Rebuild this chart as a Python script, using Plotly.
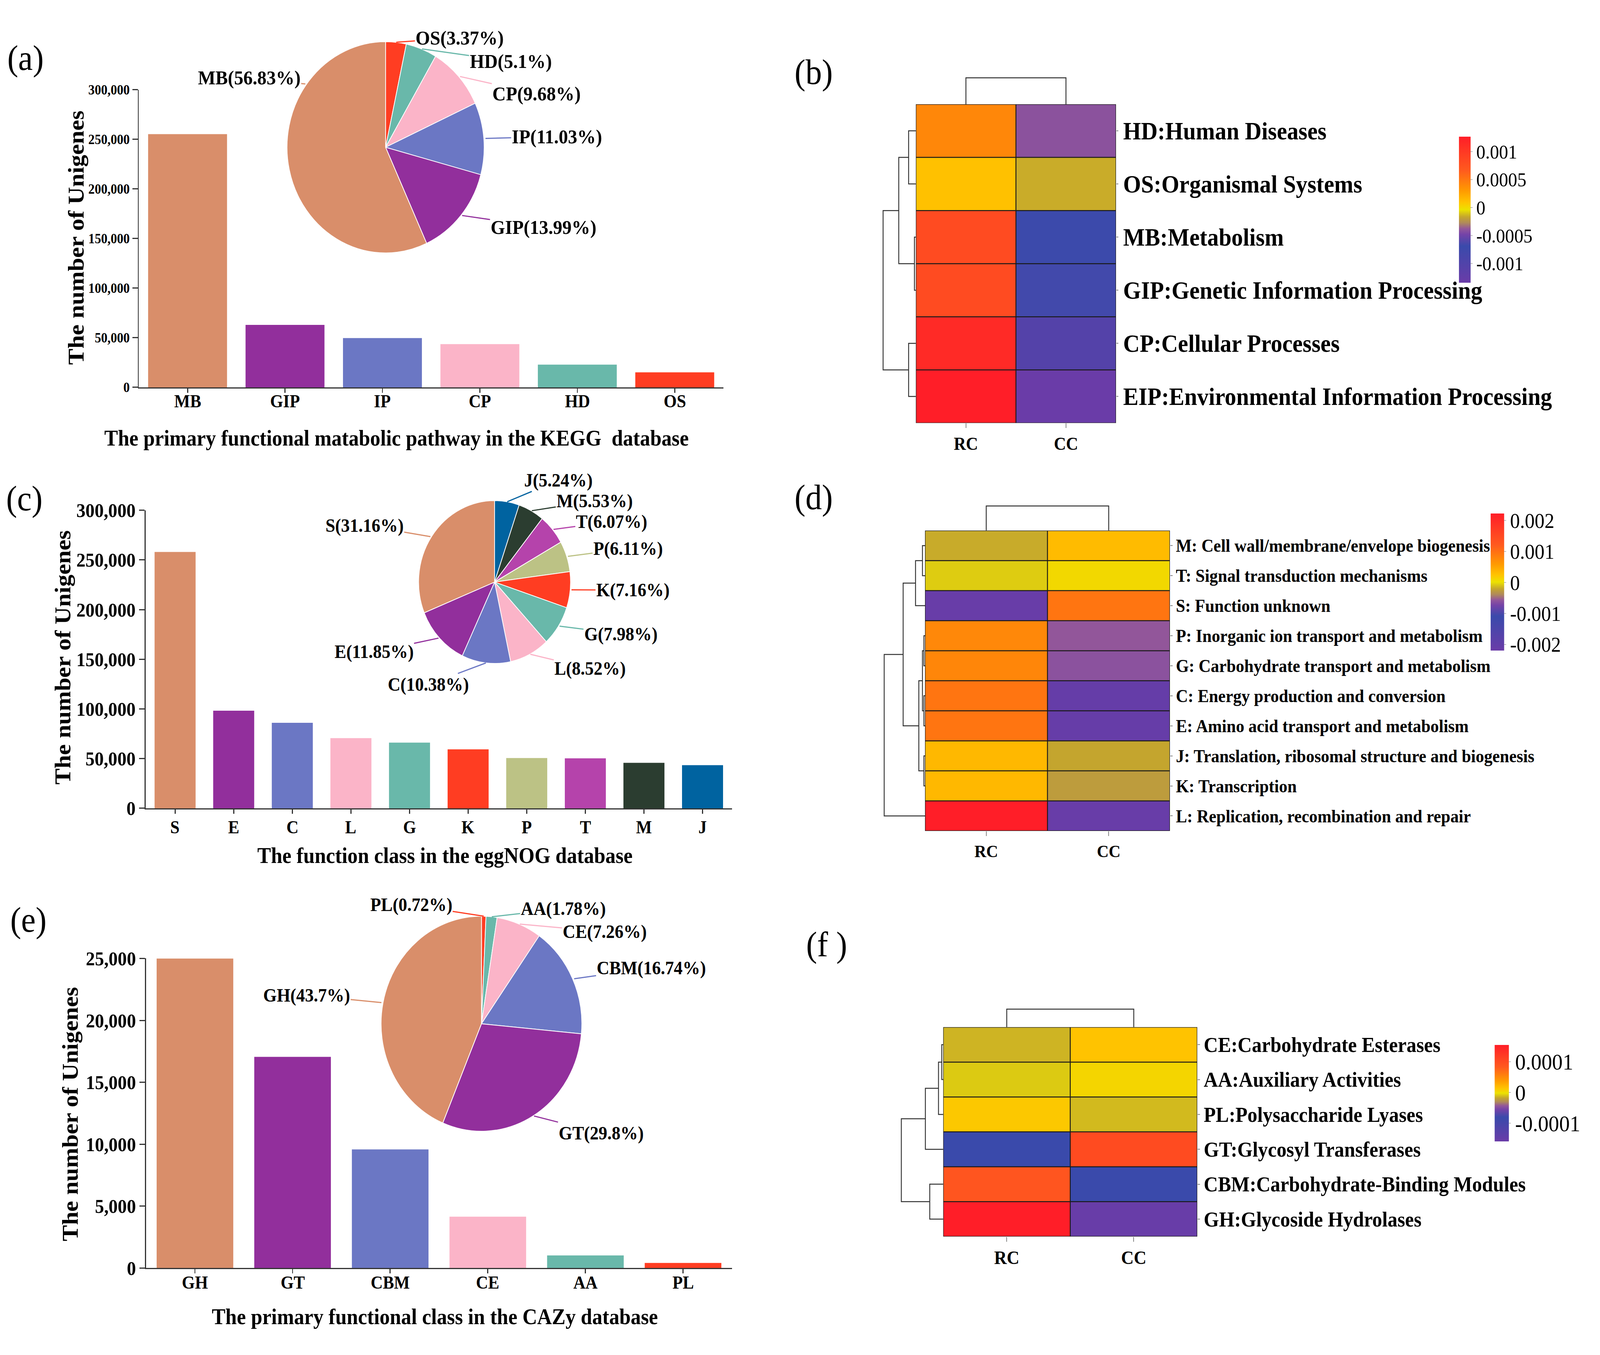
import math
import plotly.graph_objects as go

W, H = 4390, 3470
SERIF = "Liberation Serif"

# ---------------- data ----------------
kegg_cats = ["MB", "GIP", "IP", "CP", "HD", "OS"]
kegg_counts = [255200, 62900, 49600, 43500, 22900, 15100]
kegg_pct = [56.83, 13.99, 11.03, 9.68, 5.1, 3.37]

egg_cats = ["S", "E", "C", "L", "G", "K", "P", "T", "M", "J"]
egg_counts = [258000, 98200, 86000, 70600, 66100, 59300, 50600, 50300, 45800, 43400]
egg_pct = [31.16, 11.85, 10.38, 8.52, 7.98, 7.16, 6.11, 6.07, 5.53, 5.24]

cazy_cats = ["GH", "GT", "CBM", "CE", "AA", "PL"]
cazy_counts = [25000, 17050, 9580, 4150, 1020, 410]
cazy_pct = [43.7, 29.8, 16.74, 7.26, 1.78, 0.72]

heat_cols = ["RC", "CC"]

kegg_rows = ["HD:Human Diseases", "OS:Organismal Systems", "MB:Metabolism",
             "GIP:Genetic Information Processing", "CP:Cellular Processes",
             "EIP:Environmental Information Processing"]
kegg_rc = [0.00041, 0.00011, 0.00082, 0.00082, 0.00115, 0.00127]
kegg_cc = [-0.00040, -0.00015, -0.00071, -0.00066, -0.00104, -0.00134]
kegg_row_tree = [(0, 1, 20), (2, 3, 4), (6, 7, 47), (4, 5, 20), (8, 9, 90)]
kegg_col_tree = [(0, 1, 69)]

cog_rows = ["M: Cell wall/membrane/envelope biogenesis", "T: Signal transduction mechanisms",
            "S: Function unknown", "P: Inorganic ion transport and metabolism",
            "G: Carbohydrate transport and metabolism", "C: Energy production and conversion",
            "E: Amino acid transport and metabolism",
            "J: Translation, ribosomal structure and biogenesis", "K: Transcription",
            "L: Replication, recombination and repair"]
cog_rc = [-0.00018, -0.00006, -0.00215, 0.00077, 0.00079, 0.00095, 0.00095, 0.00034, 0.00034, 0.00223]
cog_cc = [0.00032, 0.00009, 0.00095, -0.00056, -0.00060, -0.00208, -0.00210, -0.00020, -0.00026, -0.00215]
cog_row_tree = [(0, 1, 7), (10, 2, 26), (3, 4, 3), (5, 6, 3), (12, 13, 7), (7, 8, 3),
                (14, 15, 17), (11, 16, 60), (17, 9, 112)]
cog_col_tree = [(0, 1, 64)]

cazyh_rows = ["CE:Carbohydrate Esterases", "AA:Auxiliary Activities", "PL:Polysaccharide Lyases",
              "GT:Glycosyl Transferases", "CBM:Carbohydrate-Binding Modules", "GH:Glycoside Hydrolases"]
cazyh_rc = [-0.0000138, -0.0000083, 0.0000115, -0.0000805, 0.0000888, 0.000155]
cazyh_cc = [0.0000143, 0.0000050, -0.0000122, 0.0001008, -0.0000805, -0.000156]
cazyh_row_tree = [(0, 1, 4), (6, 2, 13), (7, 3, 49), (4, 5, 37), (8, 9, 115)]
cazyh_col_tree = [(0, 1, 47)]

kegg_cb = dict(zmin=-0.00134, zmax=0.00127, tickvals=[0.001, 0.0005, 0, -0.0005, -0.001],
               ticktext=["0.001", "0.0005", "0", "-0.0005", "-0.001"])
cog_cb = dict(zmin=-0.00219, zmax=0.00223, tickvals=[0.002, 0.001, 0, -0.001, -0.002],
              ticktext=["0.002", "0.001", "0", "-0.001", "-0.002"])
cazyh_cb = dict(zmin=-0.000159, zmax=0.000155, tickvals=[0.0001, 0, -0.0001],
                ticktext=["0.0001", "0", "-0.0001"])

# ---------------- styles ----------------
C_SAL, C_PUR, C_BLU, C_PNK, C_TEA, C_RED = "#D98E6A", "#922F9C", "#6B77C4", "#FBB4C8", "#69B8AA", "#FF3D22"
kegg_colors = [C_SAL, C_PUR, C_BLU, C_PNK, C_TEA, C_RED]
egg_colors = [C_SAL, C_PUR, C_BLU, C_PNK, C_TEA, C_RED, "#BCC285", "#B543AB", "#2B3D30", "#0063A0"]
cazy_colors = [C_SAL, C_PUR, C_BLU, C_PNK, C_TEA, C_RED]

HEAT_CS = [[0.0, "#6A3CA8"], [0.25, "#3A4AAB"], [0.33, "#7443A8"], [0.37, "#93579A"],
           [0.41, "#B08A5A"], [0.45, "#C4A52E"], [0.5, "#ECE200"], [0.55, "#FFC400"],
           [0.63, "#FF9A00"], [0.77, "#FF5A1E"], [1.0, "#FF1E28"]]


def fx(px):
    return px / W


def fy(py):
    return 1 - py / H


def dx(x0, x1):
    return [x0 / W, x1 / W]


def dy(top, bottom):
    return [1 - bottom / H, 1 - top / H]


def bold(size, color="black"):
    return dict(family=SERIF, size=size, color=color, weight="bold")


fig = go.Figure()
annotations = []
shapes = []
layout_axes = {}

# ---------------- bar + pie panels ----------------
bar_panels = [
    dict(cats=kegg_cats, counts=kegg_counts, pct=kegg_pct, colors=kegg_colors,
         ax=1, xdom=(381, 1985), ydom=(205, 980), ymax=300000, dtick=50000, width=0.81,
         ytf=35, xtf=46, xly=1016, pie_c=(1058, 355), pie_r=275, plf=51,
         labels={"OS": (1261, 70), "HD": (1401, 131), "CP": (1472, 215), "IP": (1528, 327),
                 "GIP": (1491, 563), "MB": (684, 174)}, frac={"MB": 0.74},
         ytitle=(209, 590), xtitle=(1088, 1112),
         xt="The primary functional matabolic pathway in the KEGG  database",
         plabel="(a)", plpos=(70, 123)),
    dict(cats=egg_cats, counts=egg_counts, pct=egg_pct, colors=egg_colors,
         ax=2, xdom=(400, 2008), ydom=(1300, 2076), ymax=300000, dtick=50000, width=0.70,
         ytf=50, xtf=46, xly=2125, pie_c=(1357, 1487), pie_r=212, plf=48,
         labels={"J": (1532, 1223), "M": (1631, 1276), "T": (1678, 1330), "P": (1723, 1400),
                 "K": (1736, 1508), "G": (1703, 1622), "L": (1619, 1712), "C": (1175, 1753),
                 "E": (1026, 1668), "S": (1000, 1340)}, frac={},
         ytitle=(172, 1683), xtitle=(1221, 2199),
         xt="The function class in the eggNOG database",
         plabel="(c)", plpos=(67, 1270)),
    dict(cats=cazy_cats, counts=cazy_counts, pct=cazy_pct, colors=cazy_colors,
         ax=3, xdom=(401, 2008), ydom=(2467, 3273), ymax=25000, dtick=5000, width=0.785,
         ytf=50, xtf=46, xly=3311, pie_c=(1321, 2637), pie_r=280, plf=48,
         labels={"PL": (1128, 2328), "AA": (1545, 2338), "CE": (1659, 2397), "CBM": (1787, 2492),
                 "GT": (1649, 2921), "GH": (841, 2563)}, frac={},
         ytitle=(192, 2872), xtitle=(1193, 3400),
         xt="The primary functional class in the CAZy database",
         plabel="(e)", plpos=(78, 2367)),
]

for p in bar_panels:
    n = p["ax"]
    xa, ya = f"x{n}" if n > 1 else "x", f"y{n}" if n > 1 else "y"
    fig.add_trace(go.Bar(x=p["cats"], y=p["counts"], marker=dict(color=p["colors"], line=dict(width=0)),
                         width=p["width"], xaxis=xa, yaxis=ya, showlegend=False, hoverinfo="x+y"))
    xkey = "xaxis" if n == 1 else f"xaxis{n}"
    ykey = "yaxis" if n == 1 else f"yaxis{n}"
    layout_axes[xkey] = dict(domain=dx(*p["xdom"]), anchor=ya, showline=True, linecolor="#333",
                             linewidth=3, ticks="outside", ticklen=11, tickwidth=3, tickcolor="#333",
                             showticklabels=False, showgrid=False, zeroline=False)
    layout_axes[ykey] = dict(domain=dy(*p["ydom"]), anchor=xa, range=[0, p["ymax"]], dtick=p["dtick"],
                             tickformat=",", showline=True, linecolor="#333", linewidth=3,
                             ticks="outside", ticklen=15, tickwidth=3, tickcolor="#333",
                             tickfont=bold(p["ytf"]), showgrid=False, zeroline=False)
    for cat in p["cats"]:
        annotations.append(dict(x=cat, xref=xa, y=fy(p["xly"]), yref="paper", text=cat,
                                showarrow=False, font=bold(p["xtf"]), xanchor="center",
                                yanchor="middle"))

    pcats = list(reversed(p["cats"]))
    ppct = list(reversed(p["pct"]))
    pcol = list(reversed(p["colors"]))
    cx, cy = p["pie_c"]
    r = p["pie_r"]
    fig.add_trace(go.Pie(labels=pcats, values=ppct, marker=dict(colors=pcol, line=dict(color="white", width=2)),
                         sort=False, direction="clockwise", rotation=0, textinfo="none",
                         domain=dict(x=dx(cx - r, cx + r), y=dy(cy - r, cy + r)), showlegend=False,
                         hoverinfo="label+percent"))
    total = sum(ppct)
    cum = 0.0
    for cat, val, col in zip(pcats, ppct, pcol):
        fr = p["frac"].get(cat, 0.5)
        ang = (cum + fr * val) / total * 2 * math.pi
        cum += val
        axp = cx + r * math.sin(ang)
        ayp = cy - r * math.cos(ang)
        tx, ty = p["labels"][cat]
        annotations.append(dict(x=fx(axp), y=fy(ayp), xref="paper", yref="paper",
                                ax=tx - axp, ay=ty - ayp, showarrow=True, arrowhead=0,
                                arrowwidth=3, arrowcolor=col, standoff=0,
                                text=f"{cat}({val:g}%)", font=bold(p["plf"])))
    annotations.append(dict(x=fx(p["ytitle"][0]), y=fy(p["ytitle"][1]), xref="paper", yref="paper",
                            text="The number of Unigenes", textangle=-90, showarrow=False,
                            font=bold(62), xanchor="center", yanchor="middle"))
    annotations.append(dict(x=fx(p["xtitle"][0]), y=fy(p["xtitle"][1]), xref="paper", yref="paper",
                            text=p["xt"], showarrow=False, font=bold(56),
                            xanchor="center", yanchor="middle"))
    annotations.append(dict(x=fx(p["plpos"][0]), y=fy(p["plpos"][1]), xref="paper", yref="paper",
                            text=p["plabel"], showarrow=False,
                            font=dict(family=SERIF, size=90, color="black"),
                            xanchor="center", yanchor="middle"))

# ---------------- heatmap panels ----------------
heat_panels = [
    dict(rows=kegg_rows, rc=kegg_rc, cc=kegg_cc, rtree=kegg_row_tree, ctree=kegg_col_tree, cb=kegg_cb,
         ax=4, xdom=(2513, 3062), ydom=(243, 1073), rowfont=63, colfont=46,
         cbx=4003, cby=(327, 707), cbthick=32, cbfont=50, plabel="(b)", plpos=(2232, 160)),
    dict(rows=cog_rows, rc=cog_rc, cc=cog_cc, rtree=cog_row_tree, ctree=cog_col_tree, cb=cog_cb,
         ax=5, xdom=(2538, 3210), ydom=(1353, 2135), rowfont=46, colfont=45,
         cbx=4090, cby=(1308, 1665), cbthick=37, cbfont=54, plabel="(d)", plpos=(2232, 1267)),
    dict(rows=cazyh_rows, rc=cazyh_rc, cc=cazyh_cc, rtree=cazyh_row_tree, ctree=cazyh_col_tree, cb=cazyh_cb,
         ax=6, xdom=(2588, 3285), ydom=(2646, 3191), rowfont=54, colfont=48,
         cbx=4101, cby=(2692, 2943), cbthick=39, cbfont=58, plabel="(f )", plpos=(2268, 2431)),
]


def tree_lines(n, merges, horizontal):
    pos = list(range(n))
    hgt = [0.0] * n
    xs, ys = [], []
    for a, b, h in merges:
        seg_h = [hgt[a], h, h, hgt[b]]
        seg_p = [pos[a], pos[a], pos[b], pos[b]]
        if horizontal:
            xs += seg_h + [None]
            ys += seg_p + [None]
        else:
            xs += seg_p + [None]
            ys += seg_h + [None]
        pos.append((pos[a] + pos[b]) / 2)
        hgt.append(h)
    return xs, ys


for k, p in enumerate(heat_panels):
    n = len(p["rows"])
    hx, hy = f"x{p['ax']}", f"y{p['ax']}"
    z = [[a, b] for a, b in zip(p["rc"], p["cc"])]
    cb = p["cb"]
    fig.add_trace(go.Heatmap(
        z=z, x=[0, 1], y=list(range(n)), colorscale=HEAT_CS, zmin=cb["zmin"], zmax=cb["zmax"],
        xaxis=hx, yaxis=hy, hoverinfo="z",
        colorbar=dict(x=fx(p["cbx"]), xanchor="left", xpad=0, ypad=0,
                      y=fy((p["cby"][0] + p["cby"][1]) / 2), yanchor="middle",
                      len=(p["cby"][1] - p["cby"][0]) / H, lenmode="fraction",
                      thickness=p["cbthick"], thicknessmode="pixels", outlinewidth=0,
                      tickvals=cb["tickvals"], ticktext=cb["ticktext"], ticks="outside",
                      ticklen=6, tickcolor="#777",
                      tickfont=dict(family=SERIF, size=p["cbfont"], color="black"))))
    layout_axes[f"xaxis{p['ax']}"] = dict(domain=dx(*p["xdom"]), anchor=hy, range=[-0.5, 1.5],
                                          tickvals=[0, 1], ticktext=heat_cols, ticks="outside",
                                          ticklen=12, tickcolor="#888", tickwidth=2,
                                          tickfont=bold(p["colfont"]), showgrid=False, zeroline=False,
                                          showline=False)
    layout_axes[f"yaxis{p['ax']}"] = dict(domain=dy(*p["ydom"]), anchor=hx, side="right",
                                          range=[n - 0.5, -0.5], tickvals=list(range(n)),
                                          ticktext=p["rows"], ticks="outside", ticklen=6,
                                          tickcolor="#888", tickwidth=2, tickfont=bold(p["rowfont"]),
                                          showgrid=False, zeroline=False, showline=False)
    for i in range(n + 1):
        shapes.append(dict(type="line", xref=hx, yref=hy, x0=-0.5, x1=1.5, y0=i - 0.5, y1=i - 0.5,
                           line=dict(color="#1a1a1a", width=2.5)))
    for j in range(3):
        shapes.append(dict(type="line", xref=hx, yref=hy, x0=j - 0.5, x1=j - 0.5, y0=-0.5, y1=n - 0.5,
                           line=dict(color="#1a1a1a", width=2.5)))

    rax = 7 + k
    root = max(m[2] for m in p["rtree"]) * 1.05
    xs, ys = tree_lines(n, p["rtree"], True)
    fig.add_trace(go.Scatter(x=xs, y=ys, mode="lines", line=dict(color="#333", width=2.5),
                             xaxis=f"x{rax}", yaxis=f"y{rax}", showlegend=False, hoverinfo="skip"))
    x0 = p["xdom"][0]
    layout_axes[f"xaxis{rax}"] = dict(domain=dx(x0 - root, x0), anchor=f"y{rax}", range=[root, 0],
                                      visible=False)
    layout_axes[f"yaxis{rax}"] = dict(domain=dy(*p["ydom"]), anchor=f"x{rax}", range=[n - 0.5, -0.5],
                                      visible=False)
    cax = 10 + k
    top = max(m[2] for m in p["ctree"]) * 1.06
    xs, ys = tree_lines(2, p["ctree"], False)
    fig.add_trace(go.Scatter(x=xs, y=ys, mode="lines", line=dict(color="#333", width=2.5),
                             xaxis=f"x{cax}", yaxis=f"y{cax}", showlegend=False, hoverinfo="skip"))
    y0 = p["ydom"][0]
    layout_axes[f"xaxis{cax}"] = dict(domain=dx(*p["xdom"]), anchor=f"y{cax}", range=[-0.5, 1.5],
                                      visible=False)
    layout_axes[f"yaxis{cax}"] = dict(domain=dy(y0 - top, y0), anchor=f"x{cax}", range=[0, top],
                                      visible=False)
    annotations.append(dict(x=fx(p["plpos"][0]), y=fy(p["plpos"][1]), xref="paper", yref="paper",
                            text=p["plabel"], showarrow=False,
                            font=dict(family=SERIF, size=90, color="black"),
                            xanchor="center", yanchor="middle"))

fig.update_layout(width=W, height=H, margin=dict(l=0, r=0, t=0, b=0, pad=0),
                  paper_bgcolor="white", plot_bgcolor="white", showlegend=False,
                  annotations=annotations, shapes=shapes, **layout_axes)

# fit the fixed-size figure to whatever viewport the page is opened in
FIT_JS = """
(function () {
  var de = document.documentElement, b = document.body;
  de.style.overflow = 'hidden'; b.style.overflow = 'hidden'; b.style.margin = '0'; b.style.padding = '0';
  var vw = window.innerWidth, vh = window.innerHeight;
  var gd = document.getElementById('{plot_id}');
  var sx = vw / %d, sy = vh / %d;
  gd.style.transformOrigin = '0 0';
  gd.style.transform = 'scale(' + sx + ',' + sy + ')';
  b.style.width = vw + 'px'; b.style.height = vh + 'px';
  de.style.width = vw + 'px'; de.style.height = vh + 'px';
})();
""" % (W, H)

fig.write_html("out.html", post_script=FIT_JS, config={"displayModeBar": False})
